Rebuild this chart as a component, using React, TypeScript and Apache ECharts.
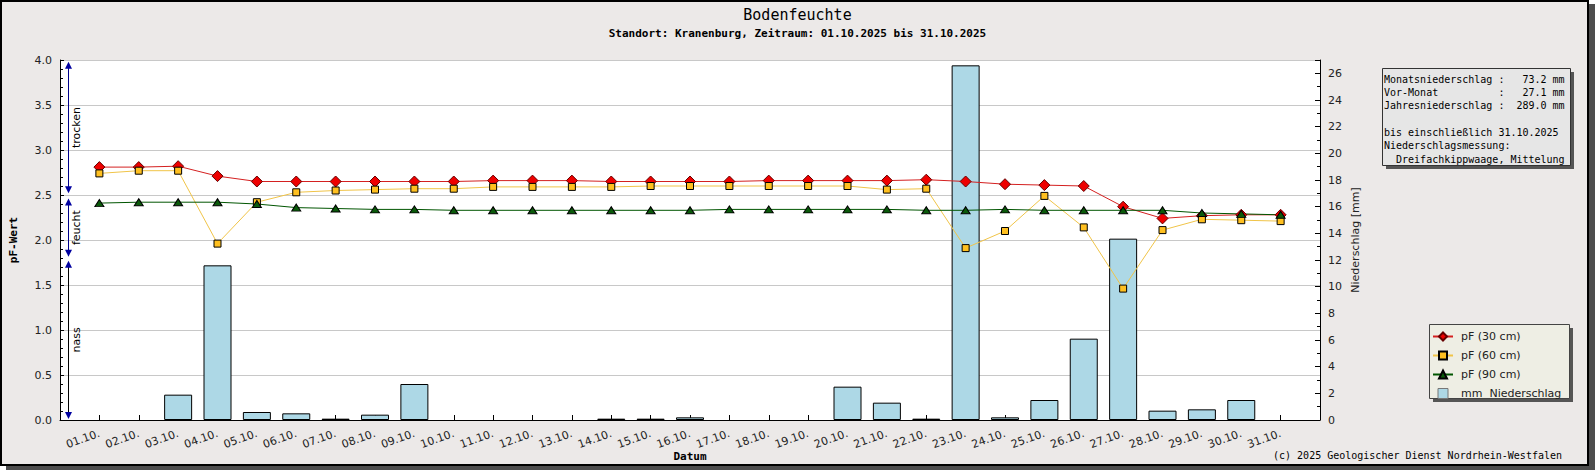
import React, { useEffect, useRef } from 'react';
import * as echarts from 'echarts';

const days = [
  '01.10.', '02.10.', '03.10.', '04.10.', '05.10.', '06.10.', '07.10.', '08.10.', '09.10.', '10.10.',
  '11.10.', '12.10.', '13.10.', '14.10.', '15.10.', '16.10.', '17.10.', '18.10.', '19.10.', '20.10.',
  '21.10.', '22.10.', '23.10.', '24.10.', '25.10.', '26.10.', '27.10.', '28.10.', '29.10.', '30.10.', '31.10.',
];

const pF30 = [
  2.81, 2.81, 2.82, 2.71, 2.65, 2.65, 2.65, 2.65, 2.65, 2.65,
  2.66, 2.66, 2.66, 2.65, 2.65, 2.65, 2.65, 2.66, 2.66, 2.66,
  2.66, 2.67, 2.65, 2.62, 2.61, 2.60, 2.37, 2.24, 2.27, 2.28, 2.28,
];
const pF60 = [
  2.74, 2.77, 2.77, 1.96, 2.42, 2.53, 2.55, 2.56, 2.57, 2.57,
  2.59, 2.59, 2.59, 2.59, 2.60, 2.60, 2.60, 2.60, 2.60, 2.60,
  2.56, 2.57, 1.91, 2.10, 2.49, 2.14, 1.46, 2.11, 2.23, 2.22, 2.21,
];
const pF90 = [
  2.41, 2.42, 2.42, 2.42, 2.40, 2.36, 2.35, 2.34, 2.34, 2.33,
  2.33, 2.33, 2.33, 2.33, 2.33, 2.33, 2.34, 2.34, 2.34, 2.34,
  2.34, 2.33, 2.33, 2.34, 2.33, 2.33, 2.33, 2.33, 2.30, 2.29, 2.28,
];
const precip = [
  0, 0, 1.9, 11.6, 0.6, 0.5, 0.1, 0.4, 2.7, 0,
  0, 0, 0, 0.1, 0.1, 0.2, 0, 0, 0, 2.5,
  1.3, 0.1, 26.6, 0.2, 1.5, 6.1, 13.6, 0.7, 0.8, 1.5, 0,
];

const seriesNames = ['pF (30 cm)', 'pF (60 cm)', 'pF (90 cm)', 'mm  Niederschlag'];

const zoneNames = ['trocken', 'feucht', 'nass'];
const zoneUpper = [3.98, 2.46, 1.77];
const zoneLower = [2.52, 1.815, 0.01];

const infoLabels = ['Monatsniederschlag', 'Vor-Monat', 'Jahresniederschlag'];
const infoValues = [73.2, 27.1, 289.0];
const infoNotes = ['bis einschließlich 31.10.2025', 'Niederschlagsmessung:', '  Dreifachkippwaage, Mittelung'];

const titleText = 'Bodenfeuchte';
const subTitleText = 'Standort: Kranenburg, Zeitraum: 01.10.2025 bis 31.10.2025';
const copyrightText = '(c) 2025 Geologischer Dienst Nordrhein-Westfalen';

const SANS = '"DejaVu Sans", sans-serif';
const MONO = '"DejaVu Sans Mono", monospace';

export default function App() {
  const ref = useRef<HTMLDivElement>(null);

  useEffect(() => {
    if (!ref.current) return;
    const chart = echarts.init(ref.current, null, { renderer: 'svg' });
    const cats = ['', ...days, ''];
    const pad = (arr: (number | null)[]) => [null, ...arr, null];
    const nb = (s: string) => s.replace(/ /g, '\u00A0');

    const infoLines = [
      ...infoLabels.map((l, i) => nb(l.padEnd(19) + ':' + infoValues[i].toFixed(1).padStart(7) + ' mm')),
      '',
      ...infoNotes.map(nb),
    ];

    const option: any = {
      animation: false,
      backgroundColor: 'transparent',
      title: {
        text: titleText,
        subtext: subTitleText,
        left: 'center',
        top: 6,
        padding: 0,
        itemGap: 4,
        textStyle: { fontFamily: MONO, fontSize: 15, fontWeight: 'normal', color: '#000', lineHeight: 17 },
        subtextStyle: { fontFamily: MONO, fontSize: 11, fontWeight: 'bold', color: '#000', lineHeight: 13 },
      },
      grid: {
        left: 60, right: 275, top: 60, bottom: 50,
        show: true, backgroundColor: '#fff', borderWidth: 0,
        containLabel: false, outerBoundsMode: 'none',
      },
      legend: {
        orient: 'vertical',
        left: 1432,
        top: 331,
        padding: 0,
        itemGap: 8,
        itemWidth: 20,
        itemHeight: 10,
        selectedMode: false,
        textStyle: { fontFamily: SANS, fontSize: 11, color: '#222', padding: [0, 0, 0, 3] },
        data: [
          { name: seriesNames[0] },
          { name: seriesNames[1] },
          { name: seriesNames[2] },
          { name: seriesNames[3], icon: 'path://M0,0H10V10H0Z', itemStyle: { borderColor: '#777', borderWidth: 1 } },
        ],
      },
      xAxis: {
        type: 'category',
        data: cats,
        boundaryGap: false,
        name: 'Datum',
        nameLocation: 'middle',
        nameGap: 31,
        nameMoveOverlap: false,
        nameTextStyle: { fontFamily: MONO, fontSize: 11, fontWeight: 'bold', color: '#000' },
        axisLine: { show: true, lineStyle: { color: '#000', width: 1 } },
        axisTick: {
          show: true, inside: true, length: 5, lineStyle: { color: '#000' },
          interval: (i: number) => i > 0 && i < cats.length - 1,
        },
        axisLabel: { interval: 0, rotate: 20, margin: 13, fontFamily: SANS, fontSize: 11, color: '#222' },
        splitLine: { show: false },
      },
      yAxis: [
        {
          type: 'value',
          min: 0, max: 4, interval: 0.5,
          name: 'pF-Wert',
          nameLocation: 'middle',
          nameGap: 41,
          nameMoveOverlap: false,
          nameTextStyle: { fontFamily: MONO, fontSize: 11, fontWeight: 'bold', color: '#000' },
          axisLine: { show: true, lineStyle: { color: '#000', width: 1 } },
          axisTick: { show: true, inside: true, length: 4, lineStyle: { color: '#000' } },
          minorTick: { show: true, splitNumber: 5, length: 3, lineStyle: { color: '#000' } },
          axisLabel: { formatter: (v: number) => v.toFixed(1), margin: 8, fontFamily: SANS, fontSize: 11, color: '#222' },
          splitLine: { show: true, lineStyle: { color: '#c8c8c8', width: 1 } },
        },
        {
          type: 'value',
          min: 0, max: 27, interval: 2,
          position: 'right',
          name: 'Niederschlag [mm]',
          nameLocation: 'middle',
          nameGap: 30,
          nameMoveOverlap: false,
          nameTextStyle: { fontFamily: SANS, fontSize: 11, color: '#222' },
          axisLine: { show: true, lineStyle: { color: '#000', width: 1 } },
          axisTick: { show: true, inside: true, length: 5, lineStyle: { color: '#000' } },
          minorTick: { show: true, splitNumber: 2, length: 3, lineStyle: { color: '#000' } },
          axisLabel: {
            formatter: (v: number) => (v % 2 === 0 ? String(v) : ''),
            margin: 8, fontFamily: SANS, fontSize: 11, color: '#222',
          },
          splitLine: { show: false },
        },
      ],
      graphic: [
        { type: 'rect', z: 1, silent: true, shape: { x: 1386, y: 72, width: 188, height: 97 }, style: { fill: '#555' } },
        { type: 'rect', z: 1, silent: true, shape: { x: 1382.5, y: 68.5, width: 188, height: 97 }, style: { fill: '#E6E6E6', stroke: '#333', lineWidth: 1 } },
        {
          type: 'text', z: 2, silent: true, x: 1384, y: 72.6,
          style: { text: infoLines.join('\n'), font: `10px ${MONO}`, lineHeight: 13.33, fill: '#000' },
        },
        { type: 'rect', z: 1, silent: true, shape: { x: 1433, y: 328, width: 140, height: 74 }, style: { fill: '#555' } },
        { type: 'rect', z: 1, silent: true, shape: { x: 1429.5, y: 324.5, width: 140, height: 74 }, style: { fill: '#EEEEE4', stroke: '#444', lineWidth: 1 } },
        {
          type: 'text', z: 2, silent: true, x: 1562, y: 455,
          style: { text: copyrightText, font: `10px ${MONO}`, fill: '#000', align: 'right', verticalAlign: 'middle' },
        },
      ],
      series: [
        {
          name: seriesNames[3],
          type: 'bar',
          yAxisIndex: 1,
          data: pad(precip.map((v) => (v === 0 ? null : v))),
          barWidth: 28,
          z: 2,
          itemStyle: { color: '#ADD8E6', borderColor: '#000', borderWidth: 1 },
          emphasis: { disabled: true },
        },
        {
          name: seriesNames[0],
          type: 'line',
          data: pad(pF30),
          z: 3,
          symbol: 'diamond',
          symbolSize: 11,
          lineStyle: { color: '#d42020', width: 1 },
          itemStyle: { color: '#ee0000', borderColor: '#600', borderWidth: 1 },
          emphasis: { disabled: true },
        },
        {
          name: seriesNames[1],
          type: 'line',
          data: pad(pF60),
          z: 3,
          symbol: 'rect',
          symbolSize: 7,
          lineStyle: { color: '#f0c448', width: 1 },
          itemStyle: { color: '#ffc020', borderColor: '#000', borderWidth: 1 },
          emphasis: { disabled: true },
        },
        {
          name: seriesNames[2],
          type: 'line',
          data: pad(pF90),
          z: 3,
          symbol: 'triangle',
          symbolSize: [9, 7],
          lineStyle: { color: '#005500', width: 1 },
          itemStyle: { color: '#0a5a0a', borderColor: '#000', borderWidth: 1 },
          emphasis: { disabled: true },
        },
        {
          type: 'custom',
          silent: true,
          z: 4,
          clip: false,
          data: zoneUpper.map((u, i) => [0, u, zoneLower[i]]),
          encode: { x: 0, y: [1, 2] },
          renderItem: (params: any, api: any) => {
            const i = params.dataIndex;
            const top = api.coord([0, api.value(1)]);
            const bot = api.coord([0, api.value(2)]);
            const x = Math.round(top[0] + 8) + 0.5;
            const y1 = top[1];
            const y2 = bot[1];
            const lineColor = i === 2 ? '#000' : '#00008b';
            const arrowColor = '#0000a0';
            return {
              type: 'group',
              children: [
                { type: 'line', shape: { x1: x, y1: y1 + 2, x2: x, y2: y2 - 2 }, style: { stroke: lineColor, lineWidth: 1 } },
                { type: 'polygon', shape: { points: [[x, y1], [x - 3.5, y1 + 7], [x + 3.5, y1 + 7]] }, style: { fill: arrowColor } },
                { type: 'polygon', shape: { points: [[x, y2], [x - 3.5, y2 - 7], [x + 3.5, y2 - 7]] }, style: { fill: arrowColor } },
                {
                  type: 'text', x: x + 8, y: (y1 + y2) / 2, rotation: Math.PI / 2,
                  style: { text: zoneNames[i], font: `11px ${SANS}`, fill: '#000', align: 'center', verticalAlign: 'middle' },
                },
              ],
            };
          },
        },
      ],
    };

    chart.setOption(option);
    return () => chart.dispose();
  }, []);

  return (
    <div style={{ position: 'fixed', left: 0, top: 0, width: 1595, height: 470, background: '#fff' }}>
      <div
        style={{
          position: 'absolute', left: 0, top: 0, width: 1589, height: 466, boxSizing: 'border-box',
          border: '2px solid #000', background: '#ECE9E8', boxShadow: '6px 4px 0 0 #4d4d4d',
        }}
      />
      <div ref={ref} style={{ position: 'absolute', left: 0, top: 0, width: 1595, height: 470 }} />
    </div>
  );
}
